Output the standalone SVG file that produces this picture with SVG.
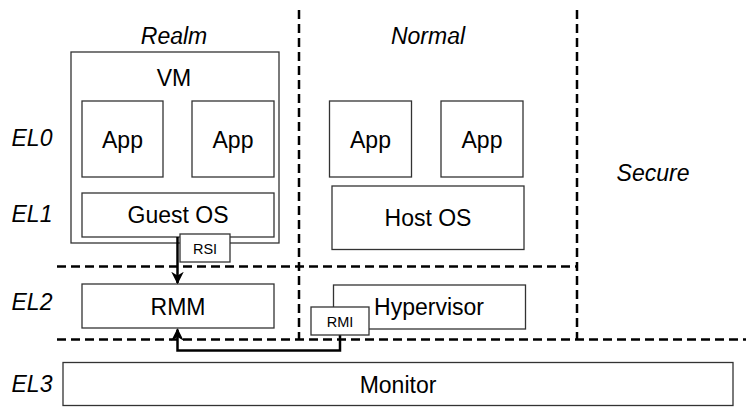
<svg xmlns="http://www.w3.org/2000/svg" width="746" height="419" viewBox="0 0 746 419">
<defs>
<style>
.box{fill:#fff;stroke:#333;stroke-width:1.3}
.t{font-family:"Liberation Sans",Arial,sans-serif;font-size:23px;fill:#000;text-anchor:middle}
.s{font-family:"Liberation Sans",Arial,sans-serif;font-size:14.5px;fill:#000;text-anchor:middle}
.i{font-family:"Liberation Sans",Arial,sans-serif;font-size:23px;font-style:italic;fill:#000;text-anchor:middle}
.d{fill:none;stroke:#000;stroke-width:2.5;stroke-dasharray:9,5}
.c{fill:none;stroke:#000;stroke-width:2.5}
</style>
<marker id="ah" viewBox="0 0 10 10" refX="9" refY="5" markerWidth="5" markerHeight="5" orient="auto" markerUnits="strokeWidth">
<path d="M0,0 L10,5 L0,10 L3,5 Z" fill="#000"/>
</marker>
</defs>
<rect width="746" height="419" fill="#fff"/>
<g id="boundaries">
<line class="d" x1="299" y1="10" x2="299" y2="339"/>
<line class="d" x1="577" y1="10" x2="577" y2="339"/>
<line class="d" x1="57" y1="266.5" x2="578" y2="266.5"/>
<line class="d" x1="57" y1="339.5" x2="746" y2="339.5"/>
</g>
<g id="labels">
<text class="i" x="174" y="44">Realm</text>
<text class="i" x="428" y="44">Normal</text>
<text class="i" x="653" y="181">Secure</text>
<text class="i" x="32" y="146">EL0</text>
<text class="i" x="32" y="222">EL1</text>
<text class="i" x="32" y="310">EL2</text>
<text class="i" x="32" y="392">EL3</text>
</g>
<g id="vm"><rect class="box" x="71" y="52" width="208" height="191"/><text class="t" x="174" y="85.5">VM</text></g>
<g id="realm-app1"><rect class="box" x="82" y="101" width="81" height="76"/><text class="t" x="122.5" y="148">App</text></g>
<g id="realm-app2"><rect class="box" x="192" y="101" width="82" height="76"/><text class="t" x="233" y="148">App</text></g>
<g id="guest-os"><rect class="box" x="82" y="193" width="192" height="44"/><text class="t" x="178" y="222.5">Guest OS</text></g>
<g id="normal-app1"><rect class="box" x="329.5" y="101" width="82" height="76"/><text class="t" x="370.5" y="148">App</text></g>
<g id="normal-app2"><rect class="box" x="441" y="101" width="82" height="76"/><text class="t" x="482" y="148">App</text></g>
<g id="host-os"><rect class="box" x="332" y="186" width="192" height="63.5"/><text class="t" x="428" y="226">Host OS</text></g>
<g id="rmm"><rect class="box" x="82" y="284" width="192" height="44"/><text class="t" x="178" y="315">RMM</text></g>
<g id="hypervisor"><rect class="box" x="333.5" y="285" width="192" height="44"/><text class="t" x="429" y="315">Hypervisor</text></g>
<g id="monitor"><rect class="box" x="63" y="362.5" width="670" height="43"/><text class="t" x="398" y="392.5">Monitor</text></g>
<g id="connectors">
<line class="c" x1="177.5" y1="237" x2="177.5" y2="283" marker-end="url(#ah)"/>
<polyline class="c" points="340,335 340,350.5 177.5,350.5 177.5,329.5" marker-end="url(#ah)"/>
</g>
<g id="rsi"><rect class="box" x="180" y="234" width="50" height="28"/><text class="s" x="205" y="253.5">RSI</text></g>
<g id="rmi"><rect class="box" x="311" y="307" width="58" height="28"/><text class="s" x="340" y="326.5">RMI</text></g>
</svg>
